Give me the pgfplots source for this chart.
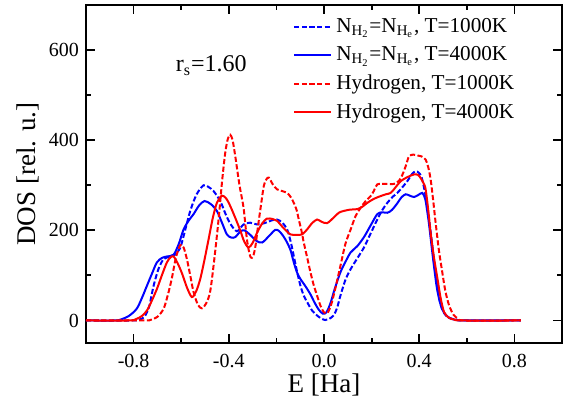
\documentclass[border=0pt]{standalone}
\usepackage{fontspec}
\setmainfont{Liberation Serif}
\usepackage{pgfplots}
\pgfplotsset{compat=1.18}
\usetikzlibrary{calc}

\begin{document}
\begin{tikzpicture}
\begin{axis}[
    scale only axis,
    width=238pt, height=169pt,
    xmin=-1, xmax=1,
    ymin=-50, ymax=700,
    axis line style={line width=1.1pt},
    tick align=inside,
    major tick length=4.5pt,
    minor tick length=2.3pt,
    every tick/.style={black, line width=0.9pt},
    xtick={-0.8,-0.4,0,0.4,0.8},
    minor xtick={-0.6,-0.2,0.2,0.6},
    ytick={0,200,400,600},
    minor ytick={100,300,500},
    /pgf/number format/assume math mode=true,
    ticklabel style={font=\fontsize{10}{11}\selectfont},
    xticklabel style={yshift=-2pt, /pgf/number format/.cd, fixed, fixed zerofill, precision=1},
    xlabel={E [Ha]},
    ylabel={DOS [rel. u.]},
    label style={font=\fontsize{13.5}{14}\selectfont},
    xlabel style={at={(axis description cs:0.5,-0.124)}, anchor=center},
    ylabel style={at={(axis description cs:-0.122,0.5)}, anchor=center},
    legend style={draw=none, fill=none, at={(axis description cs:0.422,0.985)},
        anchor=north west, font=\fontsize{10.6}{12}\selectfont, row sep=1.5pt},
    legend cell align=left,
    legend image code/.code={\draw[#1] (0pt,0pt) -- (18.5pt,0pt);},
    every axis plot/.append style={line width=1pt, smooth, tension=0.5},
    dashstyle/.style={dash pattern=on 2.6pt off 1.2pt},
]
\coordinate (bl) at (rel axis cs:0,0);
\coordinate (tr) at (rel axis cs:1,1);

\addplot[blue, dashstyle] coordinates {
(-1,0) (-0.80,0) (-0.775,2) (-0.755,8) (-0.735,30) (-0.716,77) (-0.695,115)
(-0.674,136) (-0.65,141) (-0.626,146) (-0.605,160) (-0.59,187) (-0.562,243)
(-0.535,280) (-0.506,300) (-0.485,296) (-0.464,287) (-0.436,265) (-0.415,238)
(-0.394,215) (-0.366,198) (-0.338,213) (-0.31,217) (-0.281,213) (-0.25,216)
(-0.22,222) (-0.197,224) (-0.175,217) (-0.155,202) (-0.14,175) (-0.127,143)
(-0.113,108) (-0.099,77) (-0.085,55) (-0.071,41) (-0.05,22) (-0.029,11)
(-0.01,4) (0.005,1) (0.02,3) (0.04,11) (0.055,28) (0.069,55) (0.09,90)
(0.112,114) (0.14,138) (0.168,162) (0.195,192) (0.224,224) (0.245,245)
(0.266,261) (0.29,275) (0.308,283) (0.33,296) (0.35,309) (0.37,325)
(0.385,331) (0.398,328) (0.41,318) (0.422,290) (0.434,254) (0.445,210)
(0.455,166) (0.466,115) (0.477,70) (0.49,35) (0.505,16) (0.525,6)
(0.555,2) (0.59,0) (0.827,0)
};
\addlegendentry{N\textsubscript{H\textsubscript{2}}=N\textsubscript{H\textsubscript{e}}, T=1000K}

\addplot[blue] coordinates {
(-1,0) (-0.88,0) (-0.855,2) (-0.82,10) (-0.787,26) (-0.765,50) (-0.744,77)
(-0.722,105) (-0.702,129) (-0.68,139) (-0.66,142) (-0.632,146) (-0.61,170)
(-0.59,202) (-0.568,222) (-0.548,236) (-0.525,255) (-0.502,265) (-0.475,258)
(-0.45,243) (-0.428,216) (-0.408,191) (-0.39,184) (-0.373,185) (-0.352,197)
(-0.335,200) (-0.31,190) (-0.285,177) (-0.26,173) (-0.23,188) (-0.205,201)
(-0.19,199) (-0.172,188) (-0.155,173) (-0.14,155) (-0.127,129) (-0.113,106)
(-0.099,92) (-0.078,76) (-0.057,58) (-0.04,40) (-0.022,24) (-0.005,15)
(0.01,18) (0.027,38) (0.045,70) (0.069,107) (0.09,130) (0.112,151)
(0.14,165) (0.168,185) (0.195,210) (0.224,236) (0.245,240) (0.266,239)
(0.285,245) (0.308,260) (0.325,273) (0.343,280) (0.36,277) (0.378,274)
(0.395,278) (0.413,283) (0.425,270) (0.433,245) (0.441,215) (0.452,165)
(0.462,121) (0.475,70) (0.491,33) (0.51,13) (0.533,4) (0.56,1) (0.59,0)
(0.827,0)
};
\addlegendentry{N\textsubscript{H\textsubscript{2}}=N\textsubscript{H\textsubscript{e}}, T=4000K}

\addplot[red, dashstyle] coordinates {
(-1,0) (-0.76,0) (-0.73,1) (-0.70,8) (-0.674,26) (-0.657,55) (-0.64,92)
(-0.622,140) (-0.604,167) (-0.59,162) (-0.576,136) (-0.562,100) (-0.548,63)
(-0.53,35) (-0.513,27) (-0.495,38) (-0.478,65) (-0.46,140) (-0.443,224)
(-0.428,310) (-0.415,372) (-0.404,403) (-0.394,412) (-0.384,400) (-0.373,365)
(-0.355,300) (-0.338,250) (-0.325,185) (-0.317,158) (-0.308,140) (-0.298,142)
(-0.288,165) (-0.277,210) (-0.265,255) (-0.253,298) (-0.242,313) (-0.232,317)
(-0.215,302) (-0.197,291) (-0.175,287) (-0.155,283) (-0.14,274) (-0.127,261)
(-0.115,245) (-0.106,224) (-0.095,200) (-0.085,173) (-0.07,138) (-0.057,107)
(-0.043,78) (-0.029,55) (-0.015,33) (0.0,18) (0.015,17) (0.03,35) (0.045,65)
(0.069,121) (0.09,170) (0.112,202) (0.133,232) (0.154,250) (0.175,265)
(0.196,276) (0.21,288) (0.224,302) (0.26,303) (0.294,303) (0.315,310)
(0.33,324) (0.345,345) (0.357,364) (0.375,368) (0.392,366) (0.41,364)
(0.427,357) (0.438,340) (0.448,313) (0.458,270) (0.469,217) (0.483,155)
(0.497,107) (0.51,65) (0.526,33) (0.545,12) (0.565,4) (0.59,0) (0.827,0)
};
\addlegendentry{Hydrogen, T=1000K}

\addplot[red] coordinates {
(-1,0) (-0.82,0) (-0.79,3) (-0.765,10) (-0.744,22) (-0.725,42) (-0.702,70)
(-0.68,102) (-0.66,129) (-0.645,140) (-0.632,142) (-0.615,127) (-0.597,105)
(-0.575,72) (-0.555,52) (-0.537,65) (-0.52,92) (-0.502,135) (-0.485,180)
(-0.467,228) (-0.45,261) (-0.429,277) (-0.41,270) (-0.394,254) (-0.373,228)
(-0.352,200) (-0.335,175) (-0.317,162) (-0.30,172) (-0.281,195) (-0.26,215)
(-0.24,226) (-0.215,225) (-0.197,221) (-0.17,205) (-0.141,191) (-0.115,190)
(-0.092,191) (-0.071,202) (-0.05,216) (-0.029,224) (-0.01,219) (0.013,216)
(0.04,228) (0.062,239) (0.083,243) (0.11,246) (0.139,247) (0.16,252)
(0.182,261) (0.21,270) (0.238,276) (0.26,280) (0.28,283) (0.30,295)
(0.322,309) (0.35,318) (0.378,324) (0.395,323) (0.406,316) (0.418,305)
(0.427,291) (0.438,245) (0.448,195) (0.462,140) (0.477,92) (0.49,50)
(0.505,18) (0.525,6) (0.547,2) (0.58,0) (0.827,0)
};
\addlegendentry{Hydrogen, T=4000K}

\node[font=\fontsize{12}{13}\selectfont] at (axis cs:-0.474,566) {r\textsubscript{s}=1.60};
\end{axis}
\pgfresetboundingbox
\path ($(bl)+(-43pt,-29pt)$) rectangle ($(tr)+(2.5pt,2.5pt)$);
\end{tikzpicture}
\end{document}
